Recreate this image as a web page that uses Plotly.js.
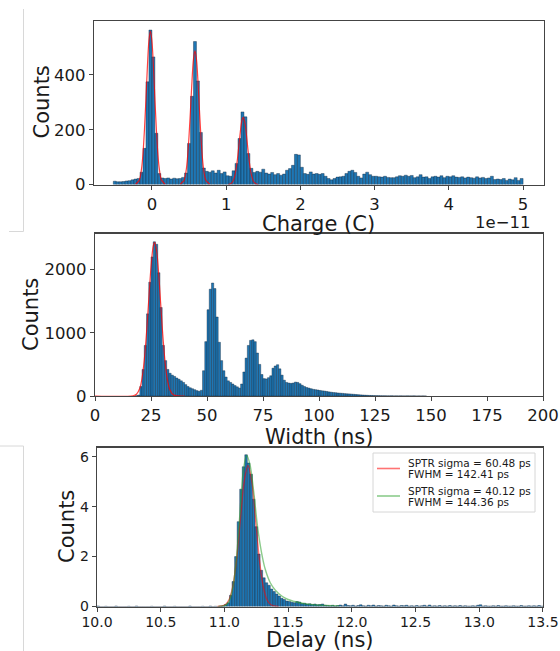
<!DOCTYPE html>
<html><head><meta charset="utf-8">
<script src="https://cdn.plot.ly/plotly-3.0.1.min.js"></script>
<style>html,body{margin:0;padding:0;background:#fff}#chart{width:560px;height:651px}</style>
</head><body><div id="chart"></div>
<script>
// ---------- Panel 1: Charge histogram (units of 1e-11 C) ----------
const chargeFirstCenter = -0.50;
const chargeBinWidth = 0.04;
const chargeCounts = [
  12, 10, 10, 11, 13, 14, 17, 20, 22, 45,
  132, 375, 564, 466, 187, 40, 24, 22, 24, 20,
  23, 21, 22, 26, 42, 150, 322, 522, 378, 190,
  60, 48, 45, 50, 42, 52, 40, 46, 32, 30,
  50, 77, 168, 265, 247, 113, 59, 44, 48, 45,
  56, 42, 38, 44, 36, 40, 34, 38, 52, 58,
  70, 110, 108, 63, 40, 37, 46, 38, 40, 37,
  40, 30, 22, 17, 22, 27, 28, 30, 40, 48,
  52, 44, 30, 24, 38, 45, 36, 30, 30, 28,
  27, 30, 26, 25, 25, 28, 32, 30, 34, 30,
  33, 25, 28, 36, 27, 28, 22, 28, 30, 27,
  32, 25, 30, 28, 32, 27, 26, 28, 24, 27,
  25, 23, 28, 24, 26, 22, 24, 30, 18, 20,
  18, 22, 15, 20, 17, 25, 15, 22
];
const chargeFitX = [
  -0.22,-0.17,-0.14,-0.12,-0.10,-0.08,-0.06,-0.04,-0.02,0.00,0.02,0.04,0.06,0.08,0.10,0.13,0.18, null,
  0.38,0.43,0.46,0.48,0.50,0.52,0.54,0.56,0.58,0.60,0.62,0.64,0.66,0.68,0.70,0.73,0.78, null,
  1.03,1.08,1.11,1.13,1.15,1.17,1.19,1.21,1.23,1.25,1.27,1.29,1.31,1.33,1.35,1.38,1.43
];
const chargeFitY = [
  1,16,57,114,202,315,434,525,560,525,434,315,202,114,57,16,1, null,
  1,14,49,99,176,275,378,458,488,458,378,275,176,99,49,14,1, null,
  0,7,25,50,88,138,190,230,245,230,190,138,88,50,25,7,0
];

// ---------- Panel 2: Width histogram (ns) ----------
const widthFirstCenter = 18.5;
const widthBinWidth = 1;
const widthCounts = [
  5, 15, 150, 420, 800, 1300, 1800, 2200, 2440, 2400,
  1950, 1400, 800, 560, 420, 360, 330, 310, 285, 265,
  240, 215, 180, 150, 130, 115, 100, 85, 75, 90,
  400, 860, 1365, 1690, 1788, 1700, 1250, 850, 560, 400,
  300, 240, 215, 190, 165, 145, 125, 190, 380, 600,
  800, 880, 889, 860, 680, 500, 340, 275, 270, 290,
  320, 440, 475, 495, 430, 330, 250, 215, 205, 200,
  205, 220, 215, 195, 170, 150, 135, 125, 115, 105,
  100, 95, 88, 82, 78, 72, 65, 60, 55, 52,
  48, 45, 42, 38, 35, 33, 30, 27, 24, 21,
  18, 16, 13, 11, 9, 8, 6, 5, 5, 4,
  3, 3, 2, 2, 3, 1, 2, 1, 2, 1,
  1, 2, 1, 1, 2, 0, 1, 0, 1, 0
];
const widthFitX = [0, 17, 18.5, 20, 21, 22, 23, 24, 25, 26, 26.6, 27.5, 28.5, 29.5, 30.5, 31.5, 32.5, 33.5, 35, 37, 40];
const widthFitY = [0, 4, 27, 122, 283, 569, 999, 1528, 2038, 2372, 2430, 2299, 1897, 1365, 856, 468, 223, 93, 19, 1, 0];

// ---------- Panel 3: Delay histogram (ns, density) ----------
const delayFirstCenter = 10.01;
const delayBinWidth = 0.02;
const delayDensity = [
  0.02,0,0,0.01,0,0,0,0.02,0,0,
  0,0,0.01,0,0,0.02,0,0,0,0,
  0,0.01,0,0,0,0,0.02,0,0,0,
  0.01,0,0,0,0,0,0.02,0,0,0,
  0,0.01,0,0,0.02,0,0.01,0,0.02,0.03,
  0.08,0.15,0.45,1.0,2.0,3.4,4.7,5.6,6.08,5.75,
  5.3,4.3,3.2,2.1,1.45,1.15,0.95,0.85,0.7,0.6,
  0.5,0.42,0.33,0.28,0.22,0.2,0.17,0.15,0.2,0.18,
  0.12,0.13,0.1,0.11,0.08,0.1,0.07,0.08,0.1,0.05,
  0.04,0.03,0.05,0.02,0.04,0.06,0.03,0.1,0.04,0.03,
  0.05,0.02,0.04,0.07,0.03,0.02,0.05,0.03,0.06,0.02,
  0.04,0.03,0.02,0.05,0.03,0.02,0.06,0.03,0.02,0.04,
  0.03,0.05,0.02,0.03,0.02,0.04,0.02,0.03,0.05,0.02,
  0.06,0.02,0.03,0.02,0.04,0.02,0.03,0.02,0.04,0.02,
  0.03,0.02,0.04,0.02,0.03,0.02,0.02,0.03,0.02,0.05,
  0.07,0.02,0.03,0.02,0.02,0.03,0.02,0.04,0.02,0.02,
  0.03,0.02,0.02,0.03,0.02,0.02,0.04,0.02,0.02,0.03,
  0.02,0.03,0.02,0.04,0.02
];
const gaussFitX = [10.945,11.005,11.035,11.065,11.095,11.125,11.155,11.185,11.215,11.245,11.275,11.305,11.335,11.365,11.425];
const gaussFitY = [0,0.07,0.26,0.79,1.86,3.46,5.0,5.65,5.0,3.46,1.86,0.79,0.26,0.07,0];
const emgFitX = [10.95,11.0,11.03,11.06,11.09,11.12,11.15,11.175,11.2,11.23,11.26,11.29,11.32,11.36,11.40,11.45,11.5,11.55,11.62,11.7,11.8,11.9];
const emgFitY = [0,0.03,0.15,0.6,1.7,3.6,5.5,6.05,5.7,4.6,3.2,2.2,1.5,0.95,0.65,0.42,0.28,0.2,0.12,0.07,0.04,0.02];

const legendLines = [
  ['SPTR sigma = 60.48 ps', 'FWHM = 142.41 ps'],
  ['SPTR sigma = 40.12 ps', 'FWHM = 144.36 ps']
];
const xTitles = ['Charge (C)', 'Width (ns)', 'Delay (ns)'];
const yTitle = 'Counts';
const offsetText = '1e\u221211';

// ---------- layout helpers ----------
const W = 560, H = 651;
const px = x => x / W;
const py = y => 1 - y / H;
const FONT = 'DejaVu Sans, Liberation Sans, sans-serif';
const TXT = '#1a1a1a';
const RED = 'rgba(255,0,0,0.55)';
const GREEN = 'rgba(44,160,44,0.55)';

const barStyle = {color: '#1f77b4', line: {color: 'rgba(10,30,50,0.75)', width: 0.5}};

function axis(domain, range, tick0, dtick, anchor, fs, extra) {
  return Object.assign({
    domain: domain, range: range, tick0: tick0, dtick: dtick, anchor: anchor,
    showline: true, mirror: true, linecolor: '#444', linewidth: 1.2,
    ticks: 'outside', ticklen: 4, tickwidth: 1, tickcolor: '#444',
    showgrid: false, zeroline: false, fixedrange: true,
    tickfont: {family: FONT, size: fs, color: TXT}
  }, extra || {});
}

const traces = [
  {type: 'bar', x0: chargeFirstCenter, dx: chargeBinWidth, y: chargeCounts,
   marker: barStyle, xaxis: 'x', yaxis: 'y', hoverinfo: 'skip'},
  {type: 'scatter', mode: 'lines', x: chargeFitX, y: chargeFitY, connectgaps: false,
   line: {color: 'rgba(255,0,0,0.75)', width: 1.2, shape: 'spline'}, xaxis: 'x', yaxis: 'y'},
  {type: 'bar', x0: widthFirstCenter, dx: widthBinWidth, y: widthCounts,
   marker: barStyle, xaxis: 'x2', yaxis: 'y2', hoverinfo: 'skip'},
  {type: 'scatter', mode: 'lines', x: widthFitX, y: widthFitY,
   line: {color: 'rgba(255,0,0,0.75)', width: 1.2, shape: 'spline'}, xaxis: 'x2', yaxis: 'y2'},
  {type: 'bar', x0: delayFirstCenter, dx: delayBinWidth, y: delayDensity,
   marker: barStyle, xaxis: 'x3', yaxis: 'y3', hoverinfo: 'skip'},
  {type: 'scatter', mode: 'lines', x: gaussFitX, y: gaussFitY, name: legendLines[0].join(' '),
   line: {color: RED, width: 1.4, shape: 'spline'}, xaxis: 'x3', yaxis: 'y3'},
  {type: 'scatter', mode: 'lines', x: emgFitX, y: emgFitY, name: legendLines[1].join(' '),
   line: {color: GREEN, width: 1.4, shape: 'spline'}, xaxis: 'x3', yaxis: 'y3'}
];

function ann(text, x, y, size, extra) {
  return Object.assign({text: text, x: px(x), y: py(y), xref: 'paper', yref: 'paper',
    showarrow: false, xanchor: 'center', yanchor: 'middle',
    font: {family: FONT, size: size, color: TXT}}, extra || {});
}

const annotations = [
  ann(yTitle, 41, 102.5, 21, {textangle: -90}),
  ann(yTitle, 31, 315, 21, {textangle: -90}),
  ann(yTitle, 67, 527, 21, {textangle: -90}),
  ann(xTitles[0], 318.5, 223.5, 21),
  ann(xTitles[1], 319, 437, 21),
  ann(xTitles[2], 320, 640, 21),
  ann(offsetText, 532, 222, 16.5, {xanchor: 'right'}),
  ann(legendLines[0][0], 406, 463, 10.5, {xanchor: 'left'}),
  ann(legendLines[0][1], 406, 474, 10.5, {xanchor: 'left'}),
  ann(legendLines[1][0], 406, 490.5, 10.5, {xanchor: 'left'}),
  ann(legendLines[1][1], 406, 501.5, 10.5, {xanchor: 'left'})
];

function seg(x0, y0, x1, y1, color, width) {
  return {type: 'line', xref: 'paper', yref: 'paper', x0: px(x0), y0: py(y0), x1: px(x1), y1: py(y1),
    line: {color: color || '#d8d8d8', width: width || 1}};
}
const shapes = [
  seg(23.5, 9, 23.5, 231.5), seg(9, 231.5, 23.5, 231.5),
  seg(0, 446, 23.5, 446), seg(23.5, 446, 23.5, 651),
  {type: 'rect', xref: 'paper', yref: 'paper', x0: px(373), y0: py(512), x1: px(535), y1: py(453),
   line: {color: '#d6d6d6', width: 1}, fillcolor: 'rgba(255,255,255,0.85)'},
  seg(377, 468.5, 400, 468.5, RED, 1.6),
  seg(377, 496, 400, 496, GREEN, 1.6)
];

const layout = {
  width: W, height: H, margin: {l: 0, r: 0, t: 0, b: 0, pad: 0},
  paper_bgcolor: '#fff', plot_bgcolor: '#fff',
  bargap: 0, barmode: 'overlay', showlegend: false,
  font: {family: FONT, color: TXT},
  xaxis: axis([px(94), px(543.5)], [-0.78, 5.275], 0, 1, 'y', 16.5),
  yaxis: axis([py(184.5), py(21)], [0, 597], 0, 200, 'x', 16.5),
  xaxis2: axis([px(95), px(543)], [0, 200.0005], 0, 25, 'y2', 16.5),
  yaxis2: axis([py(396), py(233.5)], [0, 2571], 0, 1000, 'x2', 16.5),
  xaxis3: axis([px(97), px(543)], [10, 13.5005], 10, 0.5, 'y3', 14, {tickformat: '.1f', ticklabelstandoff: -2}),
  yaxis3: axis([py(606.5), py(447.5)], [0, 6.37], 0, 2, 'x3', 14),
  annotations: annotations,
  shapes: shapes
};

Plotly.newPlot('chart', traces, layout, {displayModeBar: false, staticPlot: true});
</script>
</body></html>
